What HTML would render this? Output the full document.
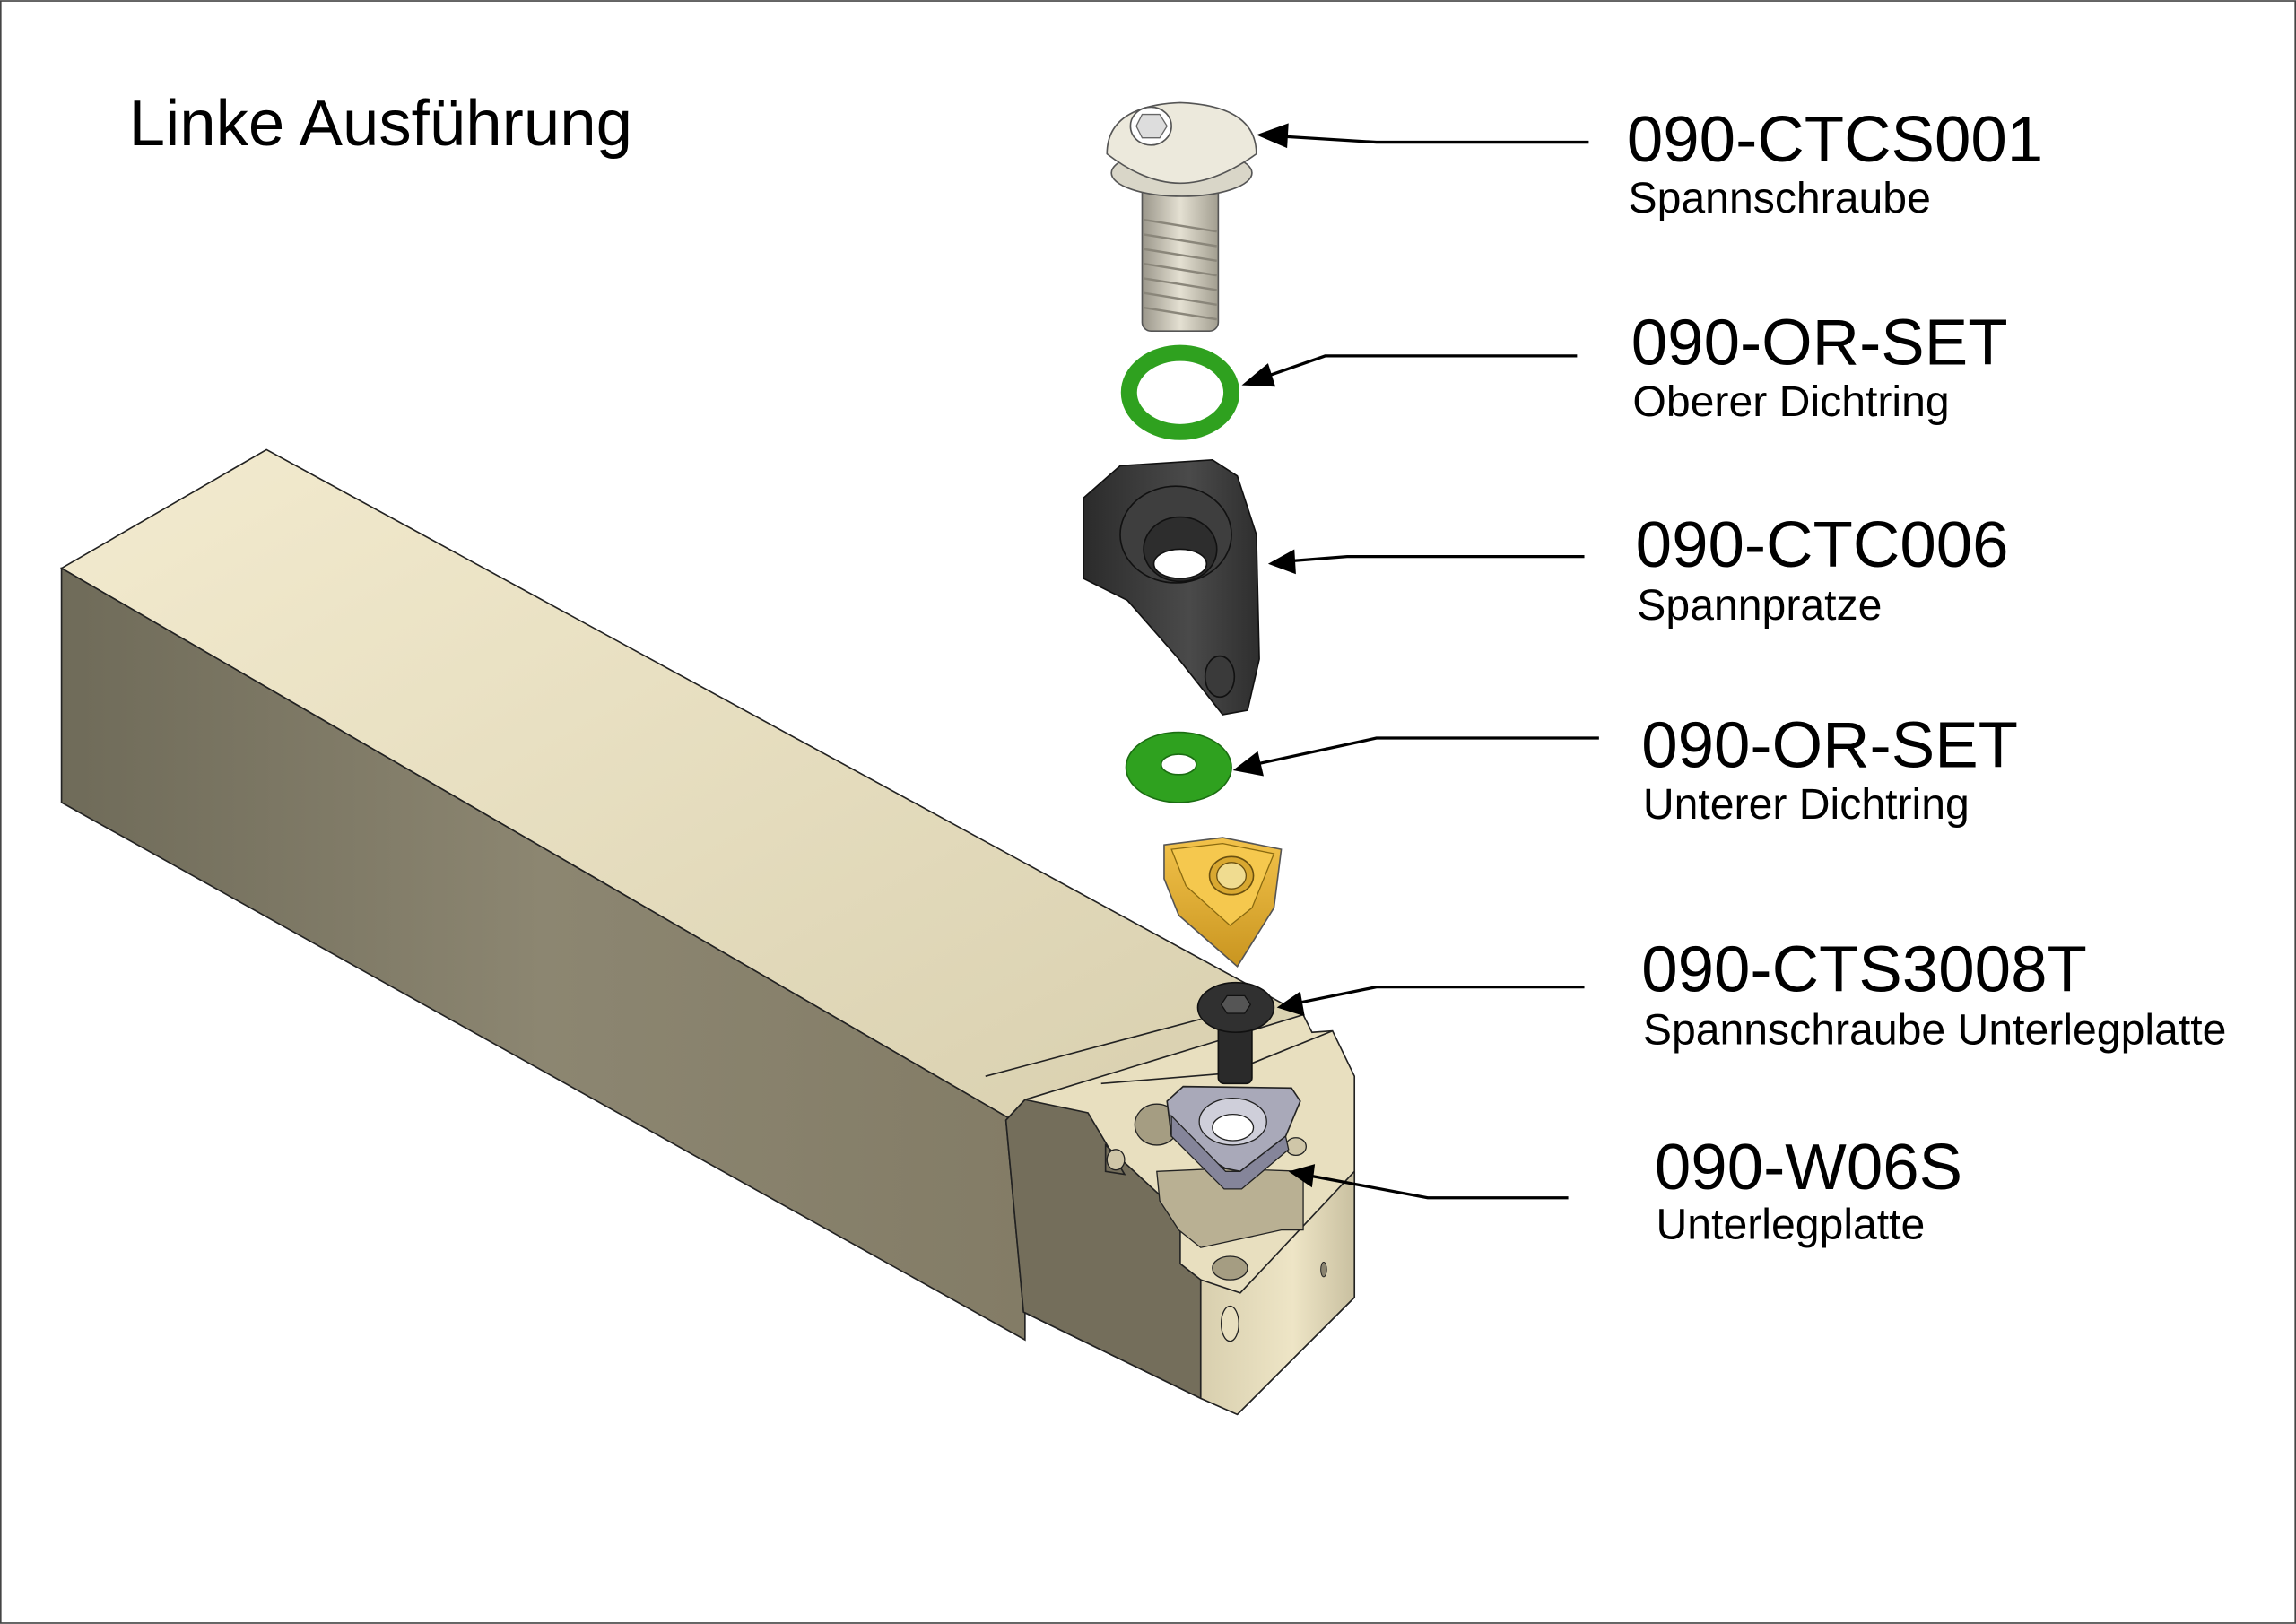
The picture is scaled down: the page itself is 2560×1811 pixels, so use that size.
<!DOCTYPE html>
<html><head><meta charset="utf-8"><style>
html,body{margin:0;padding:0;background:#fff;}
svg{display:block;}
text{font-family:"Liberation Sans",Arial,sans-serif;fill:#000;}
</style></head><body>
<svg width="2560" height="1811" viewBox="0 0 1568 1109" xmlns="http://www.w3.org/2000/svg">
<defs>
<linearGradient id="gTop" x1="0" y1="0" x2="1" y2="1"><stop offset="0" stop-color="#f3ebcf"/><stop offset="1" stop-color="#d8cfae"/></linearGradient>
<linearGradient id="gFront" x1="0" y1="0" x2="1" y2="0"><stop offset="0" stop-color="#6f6b59"/><stop offset="0.5" stop-color="#8c8671"/><stop offset="1" stop-color="#837c66"/></linearGradient>
<linearGradient id="gRight" x1="0" y1="0" x2="1" y2="0"><stop offset="0" stop-color="#d8cfae"/><stop offset="0.6" stop-color="#eee5c6"/><stop offset="1" stop-color="#c9c0a0"/></linearGradient>
<linearGradient id="gScrew" x1="0" y1="0" x2="1" y2="0"><stop offset="0" stop-color="#9a968a"/><stop offset="0.5" stop-color="#e4e0d2"/><stop offset="1" stop-color="#a29e90"/></linearGradient>
<linearGradient id="gClamp" x1="0" y1="0" x2="1" y2="0"><stop offset="0" stop-color="#2b2b2b"/><stop offset="0.6" stop-color="#4a4a4a"/><stop offset="1" stop-color="#2e2e2e"/></linearGradient>
<linearGradient id="gGold" x1="0" y1="0" x2="0" y2="1"><stop offset="0" stop-color="#f2c24a"/><stop offset="1" stop-color="#c99520"/></linearGradient>
</defs>
<rect x="0.5" y="0.5" width="1567" height="1108" fill="#fff" stroke="#444" stroke-width="1"/>

<text x="88" y="99" font-size="44.5">Linke Ausführung</text>

<!-- bar -->
<polygon points="42,388 182,307 890,693 720,760 700,770" fill="url(#gTop)" stroke="#222" stroke-width="1"/>
<polygon points="42,388 700,770 700,915 42,548" fill="url(#gFront)" stroke="#222" stroke-width="1"/>

<!-- head -->
<polygon points="687,765 700,751 890,693 896,705 910,704 925,735 925,886 845,966 820,955 699,896" fill="#e8dfbf" stroke="#222" stroke-width="1"/>
<polygon points="687,765 700,751 743,760 768,802 755,800 755,782 806,829 806,863 820,874 820,955 699,896" fill="#746e5b" stroke="#222" stroke-width="1"/>
<polygon points="820,874 847,883 925,800 925,886 845,966 820,955" fill="url(#gRight)" stroke="#222" stroke-width="1"/>
<polyline points="673,735 820,696" fill="none" stroke="#222" stroke-width="1"/>
<polyline points="752,740 838,733 910,704" fill="none" stroke="#222" stroke-width="1"/>
<!-- pocket -->
<polygon points="790,800 835,798 890,800 890,840 875,840 820,852 805,840 792,820" fill="#b9b093" stroke="#222" stroke-width="0.8"/>
<ellipse cx="790" cy="768" rx="15" ry="14" fill="#a59d82" stroke="#222" stroke-width="0.8"/>
<ellipse cx="840" cy="866" rx="12" ry="8" fill="#a59d82" stroke="#222" stroke-width="0.8"/>
<ellipse cx="762" cy="792" rx="6" ry="7" fill="#cfc6a8" stroke="#222" stroke-width="0.8"/>
<ellipse cx="885" cy="783" rx="7" ry="6" fill="#cfc6a8" stroke="#222" stroke-width="0.8"/>
<ellipse cx="904" cy="867" rx="2" ry="5" fill="#8a8470" stroke="#222" stroke-width="0.6"/>
<ellipse cx="840" cy="904" rx="6" ry="12" fill="#e8dfbf" stroke="#222" stroke-width="0.8"/>

<!-- shim -->
<polygon points="797,752 808,742 882,743 888,752 878,776 847,800 837,798 800,776" fill="#a9a9b9" stroke="#222" stroke-width="1"/>
<polygon points="800,762 837,800 847,800 878,776 880,785 848,812 836,812 800,776" fill="#85859a" stroke="#222" stroke-width="0.8"/>
<ellipse cx="842" cy="766" rx="23" ry="16" fill="#cfcfda" stroke="#222" stroke-width="0.8"/>
<ellipse cx="842" cy="770" rx="14" ry="9" fill="#fff" stroke="#222" stroke-width="0.8"/>

<!-- small screw -->
<rect x="832" y="695" width="23" height="45" rx="4" fill="#2a2a2a" stroke="#111"/>
<ellipse cx="844" cy="688" rx="26" ry="17" fill="#303030" stroke="#111"/>
<polygon points="838,680 850,680 854,686 850,692 838,692 834,686" fill="#555" stroke="#111" stroke-width="0.8"/>

<!-- top screw -->
<rect x="780" y="118" width="52" height="108" rx="6" fill="url(#gScrew)" stroke="#555"/>
<g stroke="#8a867a" stroke-width="1.5">
<line x1="781" y1="150" x2="831" y2="158"/><line x1="781" y1="160" x2="831" y2="168"/><line x1="781" y1="170" x2="831" y2="178"/><line x1="781" y1="180" x2="831" y2="188"/><line x1="781" y1="190" x2="831" y2="198"/><line x1="781" y1="200" x2="831" y2="208"/><line x1="781" y1="210" x2="831" y2="218"/>
</g>
<ellipse cx="807" cy="118" rx="48" ry="16" fill="#d9d6c8" stroke="#555"/>
<path d="M756,105 Q756,72 806,70 Q858,72 858,105 Q830,125 806,125 Q782,125 756,105 Z" fill="#ece9dc" stroke="#555"/>
<ellipse cx="786" cy="86" rx="14" ry="13" fill="#fff" stroke="#555"/>
<polygon points="780,78 792,78 797,86 792,94 780,94 776,86" fill="#ddd" stroke="#666" stroke-width="0.8"/>

<!-- ring 1 -->
<ellipse cx="806" cy="268" rx="35" ry="27" fill="none" stroke="#2fa11f" stroke-width="11"/>
<!-- clamp -->
<polygon points="740,340 765,318 828,314 845,325 858,365 860,450 852,485 835,488 805,450 770,410 740,395" fill="url(#gClamp)" stroke="#111"/>
<ellipse cx="803" cy="365" rx="38" ry="33" fill="#3e3e3e" stroke="#111"/>
<ellipse cx="806" cy="375" rx="25" ry="22" fill="#2d2d2d" stroke="#111"/>
<ellipse cx="806" cy="385" rx="18" ry="10" fill="#fff" stroke="#111"/>
<ellipse cx="833" cy="462" rx="10" ry="14" fill="#3a3a3a" stroke="#111"/>
<!-- ring 2 -->
<ellipse cx="805" cy="524" rx="36" ry="24" fill="#2fa11f" stroke="#1b6d12"/>
<ellipse cx="805" cy="522" rx="12" ry="7" fill="#fff" stroke="#1b6d12"/>
<!-- insert -->
<polygon points="795,577 835,572 875,580 870,620 845,660 805,625 795,600" fill="url(#gGold)" stroke="#555"/>
<polygon points="800,580 835,576 870,583 855,620 840,632 810,605" fill="#f5c84e" stroke="#8a6a10" stroke-width="0.8"/>
<ellipse cx="841" cy="598" rx="15" ry="13" fill="#d9a830" stroke="#6a5010"/>
<ellipse cx="841" cy="598" rx="10" ry="9" fill="#f0dc90" stroke="#6a5010" stroke-width="0.8"/>

<!-- leaders -->
<g stroke="#000" stroke-width="2" fill="none">
<polyline points="1085,97 940,97 875,93"/>
<polyline points="1077,243 905,243 862,258"/>
<polyline points="1082,380 920,380 882,383"/>
<polyline points="1092,504 940,504 857,522"/>
<polyline points="1082,674 940,674 886,685"/>
<polyline points="1071,818 975,818 895,803"/>
</g>
<g fill="#000">
<polygon points="858,92 880,84 879,101"/>
<polygon points="848,263 866,248 871,264"/>
<polygon points="866,385 884,375 885,392"/>
<polygon points="842,526 859,513 863,530"/>
<polygon points="872,688 888,677 891,694"/>
<polygon points="880,800 898,795 896,811"/>
</g>

<!-- labels -->
<text x="1111" y="110" font-size="44.5">090-CTCS001</text>
<text x="1112" y="145" font-size="29.5">Spannschraube</text>
<text x="1114" y="249" font-size="44.5">090-OR-SET</text>
<text x="1115" y="284" font-size="29.5">Oberer Dichtring</text>
<text x="1117" y="387" font-size="44.5">090-CTC006</text>
<text x="1118" y="423" font-size="29.5">Spannpratze</text>
<text x="1121" y="524" font-size="44.5">090-OR-SET</text>
<text x="1122" y="559" font-size="29.5">Unterer Dichtring</text>
<text x="1121" y="677" font-size="44.5">090-CTS3008T</text>
<text x="1122" y="713" font-size="29.5">Spannschraube Unterlegplatte</text>
<text x="1130" y="812" font-size="44.5">090-W06S</text>
<text x="1131" y="846" font-size="29.5">Unterlegplatte</text>
</svg>
</body></html>
